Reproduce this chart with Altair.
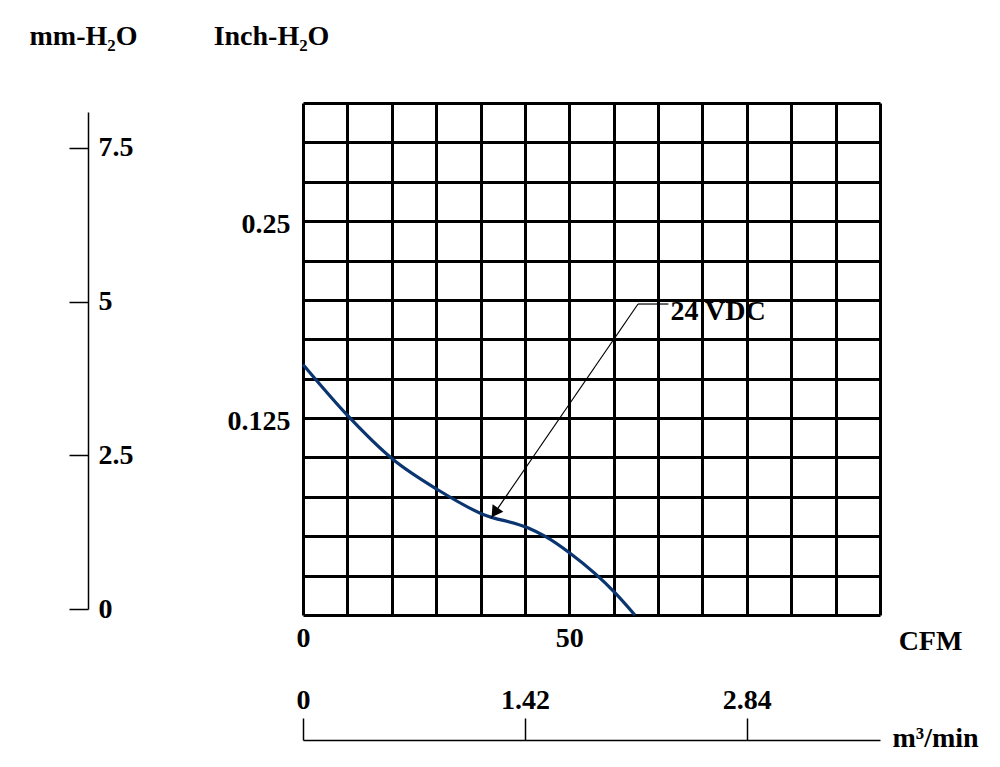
import altair as alt
import pandas as pd

# fan curve (CFM vs inch-H2O)
flow_cfm = [0, 8.4, 16.8, 25.3, 33.7, 42.1, 45.4, 50.2, 58.6, 62.3]
pressure_inch = [0.159, 0.1265, 0.099, 0.0795, 0.064, 0.0555, 0.050, 0.039, 0.014, 0.0]

# grid lines (13 x 13 cells)
grid_cfm = [0, 8.33, 16.67, 25, 33.33, 41.67, 50, 58.33, 66.67, 75, 83.33, 91.67, 100, 108.33]
grid_inch = [0, 0.025, 0.05, 0.075, 0.1, 0.125, 0.15, 0.175, 0.2, 0.225, 0.25, 0.275, 0.3, 0.325]
cfm_labels = [0, 50]
inch_labels = [0.125, 0.25]

# secondary scales
mm_ticks = [0, 2.5, 5, 7.5]
m3_ticks = [0, 1.42, 2.84]

# annotation
note_text = ['24 VDC']
note_cfm = [69.0]
note_inch = [0.1925]
leader_cfm = [62.9, 68.6]
leader_inch = [0.1974, 0.1974]
arrow_from = [62.9, 0.1974]
arrow_tip = [35.3, 0.0614]
head_pos = [36.0, 0.0650]

FONT = 'Liberation Serif, Times New Roman, DejaVu Serif'
FS = 28

xs = alt.Scale(domain=[0, 108.33], nice=False, zero=False)
ys = alt.Scale(domain=[0, 0.325], nice=False, zero=False)

x_axis = alt.Axis(
    values=grid_cfm, grid=True, gridColor='black', gridWidth=3, gridOpacity=1,
    domain=False, ticks=False, labelPadding=9, labelFlush=False, labelOverlap=False,
    labelExpr="indexof([" + ",".join(str(v) for v in cfm_labels) + "], datum.value) >= 0 ? datum.label : ''",
    labelFont=FONT, labelFontSize=FS, labelFontWeight='bold', labelColor='black',
    title='CFM', titleFont=FONT, titleFontSize=FS, titleFontWeight='bold', titleColor='black',
    titleX=627, titleY=26, titleAlign='center', titleBaseline='middle', titleAnchor='start'
)
y_axis = alt.Axis(
    values=grid_inch, grid=True, gridColor='black', gridWidth=3, gridOpacity=1,
    domain=False, ticks=False, labelPadding=13, labelFlush=False, labelOverlap=False,
    labelOffset=3, format='.3~f',
    labelExpr="indexof([" + ",".join(str(v) for v in inch_labels) + "], datum.value) >= 0 ? datum.label : ''",
    labelFont=FONT, labelFontSize=FS, labelFontWeight='bold', labelColor='black',
    title='Inch-H₂O', titleFont=FONT, titleFontSize=FS, titleFontWeight='bold', titleColor='black',
    titleAngle=0, titleX=-32, titleY=-67, titleAlign='center', titleBaseline='middle'
)


def xy():
    return dict(x=alt.X('cfm:Q', scale=xs, axis=x_axis),
                y=alt.Y('inch:Q', scale=ys, axis=y_axis))


curve = pd.DataFrame({'cfm': flow_cfm, 'inch': pressure_inch})
line = alt.Chart(curve).mark_line(color='#0a3570', strokeWidth=3.2, interpolate='monotone').encode(**xy())

arrow_df = pd.DataFrame({'cfm': [arrow_from[0]], 'inch': [arrow_from[1]],
                         'cfm2': [arrow_tip[0]], 'inch2': [arrow_tip[1]]})
arrow = alt.Chart(arrow_df).mark_rule(color='black', strokeWidth=1.2).encode(
    x2='cfm2:Q', y2='inch2:Q', **xy()
)
leader_df = pd.DataFrame({'cfm': [leader_cfm[0]], 'cfm2': [leader_cfm[1]], 'inch': [leader_inch[0]]})
leader = alt.Chart(leader_df).mark_rule(color='black', strokeWidth=1.2).encode(
    x2='cfm2:Q', **xy()
)
head_df = pd.DataFrame({'cfm': [head_pos[0]], 'inch': [head_pos[1]]})
head = alt.Chart(head_df).mark_point(shape='triangle-up', filled=True, color='black',
                                     size=170, angle=214.5, opacity=1).encode(**xy())
note_df = pd.DataFrame({'t': note_text, 'cfm': note_cfm, 'inch': note_inch})
note = alt.Chart(note_df).mark_text(align='left', baseline='middle', font=FONT,
                                    fontSize=28, fontWeight='bold', color='black').encode(
    text='t:N', **xy()
)

main = alt.layer(line, arrow, leader, head, note)

# left mm-H2O scale
mm_df = pd.DataFrame({'mm': mm_ticks})
mm_layer = alt.Chart(mm_df).mark_tick(opacity=0).encode(
    y=alt.Y('mm:Q', scale=alt.Scale(domain=[0, 8.085], range=[506, 9], nice=False, zero=False),
            axis=alt.Axis(
                orient='left', offset=215, values=mm_ticks, grid=False,
                domainColor='black', domainWidth=1.5, tickColor='black', tickWidth=1.5, tickSize=19,
                labelPadding=-29, labelAlign='left', labelBaseline='middle', labelFlush=False,
                labelOverlap=False, labelFont=FONT, labelFontSize=FS, labelFontWeight='bold',
                labelColor='black', format='.2~f',
                title='mm-H₂O', titleFont=FONT, titleFontSize=FS, titleFontWeight='bold',
                titleColor='black', titleAngle=0, titleX=-5, titleY=-67,
                titleAlign='center', titleBaseline='middle'))
)

# bottom m3/min scale
m3_df = pd.DataFrame({'m3': m3_ticks})
m3_layer = alt.Chart(m3_df).mark_tick(opacity=0).encode(
    x=alt.X('m3:Q', scale=alt.Scale(domain=[0, 3.692], nice=False, zero=False),
            axis=alt.Axis(
                orient='top', offset=-637, values=m3_ticks, grid=False,
                domainColor='black', domainWidth=1.5, tickColor='black', tickWidth=1.5, tickSize=22,
                labelPadding=4, labelFlush=False, labelOverlap=False, format='.2~f',
                labelFont=FONT, labelFontSize=FS, labelFontWeight='bold', labelColor='black',
                title='m³/min', titleFont=FONT, titleFontSize=FS, titleFontWeight='bold',
                titleColor='black', titleX=632, titleY=-2, titleAlign='center',
                titleBaseline='middle', titleAnchor='start'))
)

chart = alt.layer(main, mm_layer, m3_layer).resolve_scale(
    x='independent', y='independent'
).properties(
    width=577, height=512,
    padding={'left': 295, 'top': 95, 'right': 112, 'bottom': 144},
    autosize=alt.AutoSizeParams(type='none'),
    background='white'
).configure_view(stroke=None)

chart.save("out.html", embed_options={"renderer": "svg", "actions": False})
